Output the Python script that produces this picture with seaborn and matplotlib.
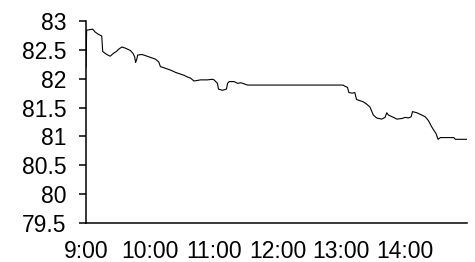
import matplotlib
matplotlib.use("Agg")
import matplotlib.pyplot as plt
import seaborn as sns
import pandas as pd

# minutes since 9:00
minutes = [0, 0.6, 6.3, 8.5, 11.6, 14.8, 15.7, 19.5, 22.7, 25.8, 28.4, 30.6, 33.7, 36.9,
           41.6, 44.1, 45.7, 46.6, 47.9, 48.5, 52.6, 57.4, 60.5, 65.2, 68.4, 69.9, 74.7,
           79.4, 84.1, 87.3, 92.0, 95.2, 98.3, 101.4, 107.7, 114.1, 118.8, 120.3, 123.5,
           124.5, 128.2, 132.0, 133.0, 134.5, 139.2, 142.4, 145.5, 148.7, 151.9, 241.6,
           243.2, 245.7, 247.0, 250.1, 252.6, 254.2, 257.3, 260.5, 263.7, 266.8, 270.0,
           273.1, 277.8, 281.0, 282.6, 284.2, 288.9, 292.0, 296.7, 299.9, 303.0, 305.5,
           306.8, 310.9, 315.6, 318.8, 321.9, 324.4, 326.7, 328.9, 330.8, 333.0, 345.6,
           347.1, 360.0]
prices = [82.20, 82.84, 82.86, 82.81, 82.77, 82.74, 82.47, 82.42, 82.39, 82.44, 82.47,
          82.51, 82.55, 82.53, 82.49, 82.44, 82.38, 82.28, 82.35, 82.41, 82.42, 82.39,
          82.37, 82.34, 82.29, 82.21, 82.18, 82.15, 82.11, 82.09, 82.06, 82.03, 82.01,
          81.96, 81.98, 81.98, 81.99, 81.98, 81.92, 81.82, 81.80, 81.82, 81.92, 81.95,
          81.95, 81.92, 81.93, 81.91, 81.89, 81.89, 81.87, 81.85, 81.76, 81.75, 81.76,
          81.64, 81.62, 81.60, 81.56, 81.51, 81.37, 81.32, 81.30, 81.33, 81.41, 81.37,
          81.33, 81.30, 81.31, 81.33, 81.32, 81.34, 81.43, 81.41, 81.37, 81.34, 81.27,
          81.18, 81.11, 81.05, 80.95, 80.98, 80.98, 80.95, 80.95]

x_tick_pos = [0, 60, 120, 180, 240, 300]
x_tick_labels = ["9:00", "10:00", "11:00", "12:00", "13:00", "14:00"]
y_tick_pos = [79.5, 80, 80.5, 81, 81.5, 82, 82.5, 83]
y_tick_labels = ["79.5", "80", "80.5", "81", "81.5", "82", "82.5", "83"]

df = pd.DataFrame({"minute": minutes, "price": prices})

sns.set_theme(style="white")
plt.rcParams["font.family"] = ["Liberation Sans", "DejaVu Sans"]

fig = plt.figure(figsize=(4.75, 2.62), dpi=100)
ax = fig.add_axes([86 / 475, 39 / 262, 381 / 475, 202 / 262])

sns.lineplot(data=df, x="minute", y="price", ax=ax, color="black", linewidth=0.8,
             estimator=None, sort=False)

ax.set_xlim(0, 358)
ax.set_ylim(79.5, 83)
ax.set_xticks(x_tick_pos)
ax.set_xticklabels(x_tick_labels)
ax.set_yticks(y_tick_pos)
ax.set_yticklabels(y_tick_labels)
ax.set_xlabel("")
ax.set_ylabel("")

for s in ["top", "right"]:
    ax.spines[s].set_visible(False)
for s in ["left", "bottom"]:
    ax.spines[s].set_color("black")
    ax.spines[s].set_linewidth(1.1)

ax.tick_params(axis="y", which="major", direction="out", length=4.7, width=1.1,
               color="black", labelsize=16.5, pad=9.5, left=True, labelcolor="black")
ax.tick_params(axis="x", which="major", length=0, labelsize=16.5, pad=12,
               labelcolor="black")

fig.savefig("out.png", dpi=100)
